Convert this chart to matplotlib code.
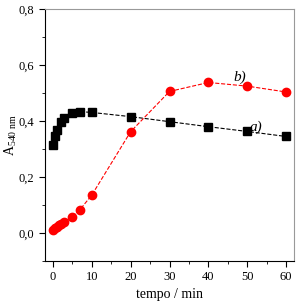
import matplotlib
matplotlib.use("Agg")
import matplotlib.pyplot as plt
from matplotlib.ticker import MultipleLocator

plt.rcParams["font.family"] = "Liberation Serif"

# series a) black squares
t_a = [0, 0.5, 1, 2, 3, 5, 7, 10, 20, 30, 40, 50, 60]
abs_a = [0.316, 0.345, 0.370, 0.396, 0.412, 0.430, 0.434, 0.431, 0.416, 0.398, 0.380, 0.363, 0.345]

# series b) red circles
t_b = [0, 0.5, 1, 1.5, 2, 3, 5, 7, 10, 20, 30, 40, 50, 60]
abs_b = [0.012, 0.017, 0.022, 0.027, 0.032, 0.040, 0.059, 0.084, 0.135, 0.362, 0.506, 0.538, 0.525, 0.504]

fig = plt.figure(figsize=(3.0, 3.06), dpi=100)
ax = fig.add_axes([0.15, 0.147, 0.83, 0.823])

ax.plot(t_a, abs_a, "--", color="black", lw=0.8, marker="s", ms=5.5, mfc="black", mec="black")
ax.plot(t_b, abs_b, "--", color="red", lw=0.8, marker="o", ms=6, mfc="red", mec="red")

ax.text(50.5, 0.365, "a)", fontsize=11, style="italic")
ax.text(46.5, 0.545, "b)", fontsize=11, style="italic")

ax.set_xlim(-2, 62)
ax.set_ylim(-0.1, 0.8)
ax.xaxis.set_major_locator(MultipleLocator(10))
ax.xaxis.set_minor_locator(MultipleLocator(5))
ax.yaxis.set_major_locator(MultipleLocator(0.2))
ax.yaxis.set_minor_locator(MultipleLocator(0.1))
ax.yaxis.set_major_formatter(plt.FuncFormatter(lambda v, p: f"{v:.1f}".replace(".", ",")))

ax.tick_params(which="major", direction="out", length=4, labelsize=9)
ax.tick_params(which="minor", direction="out", length=2)
for s in ["top", "right"]:
    ax.spines[s].set_color("#999999")
ax.tick_params(top=False, right=False)

ax.set_xlabel("tempo / min", fontsize=10, labelpad=3)
ax.set_ylabel(r"A$_{\mathregular{540\ nm}}$", fontsize=10)
ax.yaxis.set_label_coords(-0.105, 0.5)

fig.savefig("out.png", dpi=100)
